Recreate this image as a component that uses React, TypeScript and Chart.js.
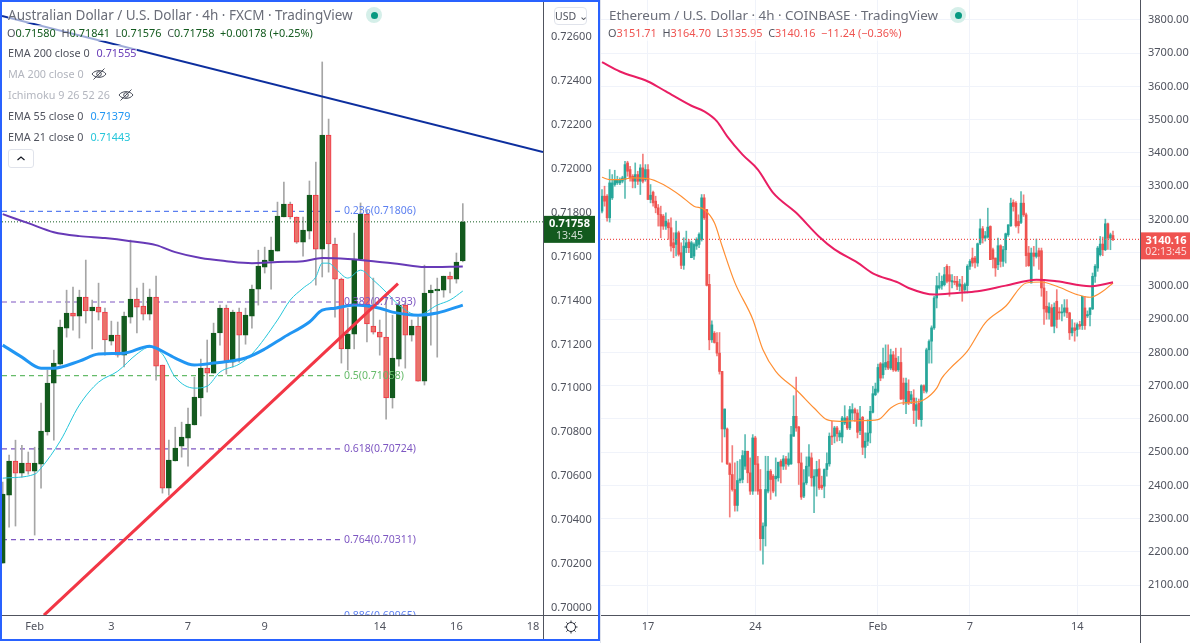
import React, { useEffect, useRef } from "react";
import { Chart, registerables } from "chart.js";

Chart.register(...registerables);

// ---------- AUD/USD ----------
const audOpen = [0.70204,0.70514,0.70669,0.70614,0.70660,0.70623,0.70655,0.70801,0.71024,0.71110,
0.71274,0.71343,0.71329,0.71415,0.71352,0.71370,0.71347,0.71215,0.71242,0.71151,
0.71324,0.71406,0.71374,0.71338,0.71415,0.71106,0.70546,0.70669,0.70737,0.70773,
0.70833,0.70956,0.71092,0.71069,0.71252,0.71365,0.71119,0.71347,0.71242,0.71329,
0.71452,0.71552,0.71579,0.71625,0.71780,0.71839,0.71780,0.71666,0.71716,0.71880,
0.71634,0.72153,0.71657,0.71497,0.71179,0.71247,0.71589,0.71793,0.71283,0.71256,
0.71233,0.70956,0.71133,0.71379,0.71242,0.71283,0.71033,0.71434,0.71443,0.71447,
0.71511,0.71497,0.71580];
const audHigh = [0.70573,0.70696,0.70764,0.70741,0.70710,0.70732,0.70933,0.71083,0.71174,0.71311,
0.71447,0.71461,0.71447,0.71584,0.71402,0.71479,0.71365,0.71306,0.71302,0.71347,
0.71675,0.71456,0.71479,0.71452,0.71511,0.71106,0.70764,0.70823,0.70846,0.70910,
0.71051,0.71133,0.71220,0.71297,0.71379,0.71379,0.71356,0.71365,0.71365,0.71470,
0.71629,0.71643,0.71689,0.71848,0.71939,0.71848,0.71780,0.71780,0.71944,0.72030,
0.72486,0.72226,0.71684,0.71502,0.71365,0.71707,0.71844,0.71810,0.71502,0.71311,
0.71425,0.71333,0.71393,0.71393,0.71311,0.71324,0.71561,0.71470,0.71502,0.71511,
0.71529,0.71616,0.71841];
const audLow = [0.70204,0.70368,0.70373,0.70596,0.70609,0.70332,0.70546,0.70787,0.70764,0.71106,
0.71233,0.71265,0.71229,0.71297,0.71179,0.71311,0.71151,0.71197,0.71142,0.71097,
0.71297,0.71252,0.71311,0.71311,0.71037,0.70523,0.70514,0.70669,0.70687,0.70646,
0.70833,0.70874,0.70983,0.71069,0.71197,0.71065,0.71097,0.71119,0.71201,0.71274,
0.71379,0.71525,0.71452,0.71625,0.71780,0.71771,0.71660,0.71602,0.71680,0.71470,
0.71507,0.71529,0.71324,0.71115,0.71083,0.71179,0.71589,0.71211,0.71247,0.71151,
0.70860,0.70910,0.71101,0.71092,0.71215,0.71033,0.71015,0.71197,0.71142,0.71415,
0.71434,0.71479,0.71576];
const audClose = [0.70518,0.70669,0.70614,0.70660,0.70623,0.70660,0.70805,0.71024,0.71115,0.71279,
0.71343,0.71329,0.71415,0.71352,0.71370,0.71347,0.71220,0.71242,0.71151,0.71329,
0.71406,0.71370,0.71338,0.71415,0.71101,0.70546,0.70673,0.70728,0.70778,0.70837,
0.70960,0.71092,0.71069,0.71252,0.71365,0.71119,0.71347,0.71242,0.71333,0.71452,
0.71557,0.71584,0.71629,0.71784,0.71839,0.71780,0.71666,0.71721,0.71880,0.71634,
0.72153,0.71657,0.71497,0.71179,0.71247,0.71589,0.71793,0.71293,0.71256,0.71233,
0.70956,0.71138,0.71379,0.71242,0.71283,0.71033,0.71434,0.71447,0.71452,0.71511,
0.71497,0.71575,0.71758];

const audEma200Bars = [0,4,8,12,16,20,24,27,31,35,39,43,47,50,54,58,62,66,72];
const audEma200 = [0.71793,0.71752,0.71711,0.71693,0.71684,0.71670,0.71652,0.71620,0.71593,0.71579,0.71570,0.71575,0.71579,0.71593,0.71589,0.71579,0.71566,0.71552,0.71555];
const audEma55Bars = [0,3,6,8,12,15,19,23,24,27,30,33,38,41,44,48,50,52,55,59,61,65,68,72];
const audEma55 = [0.71197,0.71142,0.71092,0.71092,0.71124,0.71156,0.71160,0.71192,0.71183,0.71138,0.71106,0.71115,0.71138,0.71179,0.71233,0.71302,0.71356,0.71365,0.71379,0.71365,0.71347,0.71333,0.71343,0.71379];
const audEma21Bars = [0,5,6,9,12,15,18,21,23,25,27,30,32,34,37,39,43,45,47,49,50,51,52,54,56,58,60,62,65,68,70,72];
const audEma21 = [0.70591,0.70609,0.70637,0.70760,0.70924,0.71028,0.71078,0.71156,0.71188,0.71156,0.71051,0.71001,0.71010,0.71074,0.71110,0.71156,0.71311,0.71402,0.71456,0.71507,0.71570,0.71570,0.71548,0.71502,0.71538,0.71493,0.71438,0.71379,0.71333,0.71379,0.71402,0.71443];

const audBlueLineBars = [-0.11, 84.55];
const audBlueLine = [0.72695, 0.72076];
const audRedLineBars = [6.46, 61.86];
const audRedLine = [0.69967, 0.71477];

const fibLevels = [0.71806, 0.71393, 0.71058, 0.70724, 0.70311, 0.69965];
const fibLabels = ["0.236(0.71806)", "0.382(0.71393)", "0.5(0.71058)", "0.618(0.70724)", "0.764(0.70311)", "0.886(0.69965)"];
const fibColors = ["#5b7ff0", "#7e57c2", "#66bb6a", "#7e57c2", "#7e57c2", "#5b7ff0"];

const audTicks = [0.70000,0.70200,0.70400,0.70600,0.70800,0.71000,0.71200,0.71400,0.71600,0.71800,0.72000,0.72200,0.72400,0.72600];
const audDayBars = [5, 17, 29, 41, 59, 71, 83];
const audDayLabels = ["Feb", "3", "7", "9", "14", "16", "18"];

// ---------- ETH/USD ----------
const ethOpen = [3225,3270,3270,3205,3265,3305,3310,3310,3315,3320,
3370,3350,3330,3315,3335,3315,3355,3320,3350,3260,
3282,3255,3235,3215,3210,3180,3190,3175,3130,3125,
3160,3100,3062,3115,3132,3085,3090,3120,3125,3140,
3265,3230,3005,2838,2858,2830,2798,2743,2570,2570,
2465,2433,2388,2340,2415,2418,2458,2503,2438,2383,
2543,2465,2388,2240,2278,2383,2443,2428,2420,2423,
2473,2458,2480,2463,2465,2548,2608,2576,2468,2368,
2408,2458,2483,2398,2428,2450,2401,2398,2448,2465,
2548,2548,2573,2546,2546,2588,2603,2573,2618,2628,
2618,2565,2605,2515,2533,2558,2620,2673,2683,2766,
2733,2756,2773,2753,2793,2783,2748,2770,2708,2648,
2683,2658,2663,2626,2648,2598,2700,2683,2808,2834,
2874,2964,2994,3000,3004,3059,3034,3012,3014,3014,
2999,3004,2989,3001,3059,3084,3084,3069,3129,3172,
3144,3147,3179,3109,3084,3064,3121,3074,3109,3154,
3181,3251,3249,3194,3191,3249,3214,3099,3009,3099,
3089,3106,3106,2994,2939,2919,2934,2879,2954,2921,
2919,2921,2934,2919,2859,2874,2869,2884,2881,2934,
2910,2914,2931,3029,3054,3094,3126,3109,3187,3144,
3151.71];
const ethHigh = [3290,3300,3275,3350,3335,3348,3330,3325,3330,3375,
3375,3360,3335,3370,3345,3365,3397,3365,3365,3305,
3285,3270,3245,3240,3215,3220,3200,3205,3160,3195,
3165,3130,3145,3165,3140,3135,3130,3145,3160,3275,
3275,3230,3035,2895,2863,2860,2860,2743,2630,2573,
2468,2520,2468,2473,2478,2505,2553,2503,2483,2553,
2548,2488,2448,2288,2488,2488,2448,2433,2483,2470,
2478,2490,2488,2498,2578,2670,2726,2578,2498,2448,
2486,2523,2498,2448,2473,2478,2428,2450,2498,2558,
2593,2578,2578,2565,2608,2640,2608,2638,2646,2633,
2628,2638,2608,2558,2598,2638,2698,2708,2765,2770,
2813,2823,2823,2810,2803,2813,2788,2813,2723,2723,
2718,2683,2688,2663,2660,2703,2703,2813,2838,2880,
2969,3029,3039,3030,3056,3064,3059,3034,3029,3029,
3020,3029,3009,3064,3079,3114,3089,3129,3201,3179,
3164,3234,3181,3114,3084,3144,3124,3119,3159,3184,
3264,3259,3254,3214,3284,3274,3219,3119,3114,3119,
3141,3114,3114,3014,2984,2949,2944,2949,2989,2935,
2944,2959,2959,2921,2899,2889,2889,2894,2969,2969,
2925,2934,3039,3064,3119,3149,3147,3201,3189,3159,
3164.7];
const ethLow = [3220,3240,3195,3192,3260,3300,3305,3305,3310,3263,
3330,3315,3295,3295,3305,3275,3310,3315,3260,3250,
3240,3220,3180,3145,3170,3170,3140,3105,3085,3090,
3090,3052,3050,3100,3100,3085,3080,3110,3115,3135,
3200,3000,2808,2830,2828,2790,2735,2470,2546,2463,
2305,2383,2323,2323,2408,2408,2448,2408,2373,2373,
2383,2373,2205,2163,2218,2378,2358,2378,2368,2413,
2408,2448,2448,2458,2463,2548,2563,2403,2358,2363,
2403,2428,2398,2318,2368,2388,2388,2363,2428,2458,
2523,2528,2533,2535,2528,2583,2568,2568,2598,2593,
2543,2553,2493,2483,2520,2528,2618,2670,2678,2715,
2723,2748,2748,2748,2743,2743,2743,2658,2643,2616,
2643,2646,2586,2578,2598,2578,2678,2678,2768,2768,
2869,2934,2990,2990,3000,3009,2969,2994,3004,2989,
2985,2954,2979,2979,3050,3059,3054,3059,3124,3129,
3135,3144,3079,3054,3029,3049,3057,3059,3069,3149,
3179,3225,3177,3159,3187,3209,3059,3059,3009,3060,
3084,3050,2969,2884,2900,2900,2879,2859,2874,2900,
2895,2909,2905,2839,2850,2834,2849,2870,2869,2869,
2905,2880,2929,3011,3044,3090,3091,3106,3110,3109,
3135.95];
const ethClose = [3270,3255,3205,3310,3310,3320,3320,3320,3325,3365,
3345,3325,3315,3335,3315,3355,3315,3350,3260,3273,
3250,3235,3215,3180,3180,3195,3175,3120,3115,3160,
3095,3062,3120,3130,3115,3130,3125,3140,3155,3265,
3205,3002,2838,2883,2830,2798,2743,2570,2630,2465,
2433,2388,2340,2415,2420,2490,2503,2438,2383,2543,
2463,2383,2240,2278,2388,2443,2418,2383,2428,2470,
2458,2480,2465,2480,2553,2608,2573,2468,2365,2408,
2458,2486,2423,2428,2448,2393,2393,2448,2466,2548,
2546,2573,2556,2558,2603,2603,2573,2628,2628,2618,
2560,2600,2515,2533,2558,2623,2676,2690,2755,2723,
2766,2770,2753,2793,2748,2746,2770,2660,2660,2708,
2648,2673,2626,2643,2600,2700,2686,2808,2833,2874,
2964,3001,3001,3014,3034,3014,3014,3016,3011,2999,
3006,2984,3004,3059,3074,3069,3071,3127,3172,3144,
3151,3177,3079,3081,3054,3121,3074,3109,3157,3184,
3249,3239,3181,3181,3249,3214,3091,3061,3099,3089,
3099,3089,2994,2931,2921,2937,2879,2936,2899,2919,
2921,2934,2919,2859,2874,2866,2884,2879,2969,2881,
2914,2934,3029,3059,3114,3126,3109,3187,3144,3154,
3140.16];

const ethEma200Bars = [0,7,18,25,35,40,45,49,55,61,67,76,85,91,100,106,116,120,130,139,147,158,170,178,191,200];
const ethEma200 = [3673,3645,3615,3585,3542,3525,3495,3450,3395,3350,3280,3220,3148,3110,3070,3038,3010,2994,2974,2979,2984,3001,3019,3014,2999,3011];
const ethEma55Bars = [0,3,7,12,18,24,31,36,40,44,47,52,59,63,68,76,83,88,93,101,108,113,117,122,126,131,133,136,143,150,158,166,172,178,186,191,196,200];
const ethEma55 = [3327,3320,3320,3325,3323,3305,3270,3240,3230,3190,3120,3010,2900,2808,2743,2688,2633,2598,2593,2595,2598,2633,2648,2650,2658,2693,2723,2750,2804,2889,2939,3009,3012,2999,2974,2966,2984,3009];

const ethTicks = [2100,2200,2300,2400,2500,2600,2700,2800,2900,3000,3100,3200,3300,3400,3500,3600,3700,3800];
const ethDayBars = [18, 60, 108, 144, 186];
const ethDayLabels = ["17", "24", "Feb", "7", "14"];

const UI_FONT = '"Noto Sans", sans-serif';
const AXIS_COLOR = "#50535e";

function candleSets(o: number[], h: number[], l: number[], c: number[], st: any) {
  const bars = o.map((_, i) => i);
  const up = (i: number) => c[i] >= o[i];
  return [
    {
      type: "bar", order: 4, grouped: false, barThickness: st.bodyWidth, minBarLength: 1,
      data: bars.map((i) => ({ x: i, y: [o[i], c[i]] })),
      backgroundColor: bars.map((i) => (up(i) ? st.up : st.downFill)),
      borderColor: bars.map((i) => (up(i) ? st.up : st.down)),
      borderWidth: st.border, borderSkipped: false,
    },
    {
      type: "bar", order: 5, grouped: false, barThickness: 1,
      data: bars.map((i) => ({ x: i, y: [l[i], h[i]] })),
      backgroundColor: bars.map((i) => (up(i) ? st.wickUp : st.wickDown)),
      borderWidth: 0,
    },
  ];
}

function lineSet(xs: number[], ys: number[], color: string, width: number, order: number, extra: any = {}) {
  return {
    type: "line", order, data: xs.map((x, i) => ({ x, y: ys[i] })),
    borderColor: color, borderWidth: width, pointRadius: 0, fill: false, ...extra,
  };
}

function axesOptions(cfg: any) {
  return {
    x: {
      type: "linear", min: cfg.xMin, max: cfg.xMax, offset: false,
      afterBuildTicks: (s: any) => { s.ticks = cfg.dayBars.map((v: number) => ({ value: v })); },
      afterFit: (s: any) => { s.height = 23; s.paddingLeft = 0; s.paddingRight = 0; },
      ticks: {
        autoSkip: false, maxRotation: 0, padding: 5, color: AXIS_COLOR,
        font: { family: UI_FONT, size: 11 },
        callback: (v: number) => cfg.dayLabels[cfg.dayBars.indexOf(v)] ?? "",
      },
      grid: { display: cfg.grid, offset: false, color: "#f0f3fa", drawTicks: false },
      border: { color: AXIS_COLOR, width: 1 },
    },
    y: {
      type: "linear", position: "right", min: cfg.yMin, max: cfg.yMax,
      afterBuildTicks: (s: any) => { s.ticks = cfg.yTicks.map((v: number) => ({ value: v })); },
      afterFit: (s: any) => { s.width = cfg.axisWidth; s.paddingTop = 0; s.paddingBottom = 0; },
      ticks: {
        autoSkip: false, padding: 8, color: AXIS_COLOR,
        font: { family: UI_FONT, size: 11 },
        callback: (v: number) => v.toFixed(cfg.decimals),
      },
      grid: { display: cfg.grid, color: "#f0f3fa", drawTicks: false },
      border: { color: AXIS_COLOR, width: 1 },
    },
  };
}

function frameAndTagPlugin(cfg: any) {
  return {
    id: "frameAndTag",
    afterDatasetsDraw(chart: any) {
      if (!cfg.fib) return;
      const { ctx, chartArea, scales } = chart;
      ctx.save();
      ctx.beginPath();
      ctx.rect(chartArea.left, chartArea.top, chartArea.width, chartArea.height);
      ctx.clip();
      ctx.font = `10.5px ${UI_FONT}`;
      ctx.textBaseline = "middle";
      ctx.textAlign = "left";
      fibLevels.forEach((v, i) => {
        ctx.fillStyle = fibColors[i];
        ctx.fillText(fibLabels[i], scales.x.getPixelForValue(cfg.fib), scales.y.getPixelForValue(v));
      });
      ctx.restore();
    },
    afterDraw(chart: any) {
      const { ctx, chartArea, scales, width, height } = chart;
      const r = chartArea.right;
      const b = chartArea.bottom;
      ctx.save();
      ctx.strokeStyle = AXIS_COLOR;
      ctx.lineWidth = 1;
      ctx.beginPath();
      ctx.moveTo(r + 0.5, b);
      ctx.lineTo(r + 0.5, height);
      ctx.moveTo(r, b + 0.5);
      ctx.lineTo(width, b + 0.5);
      ctx.stroke();
      // last-price tag
      const y = scales.y.getPixelForValue(cfg.last);
      ctx.fillStyle = cfg.tagColor;
      ctx.fillRect(r + 1, y + cfg.tagTop, cfg.tagWidth, 27);
      ctx.textAlign = "center";
      ctx.textBaseline = "middle";
      ctx.fillStyle = "#ffffff";
      ctx.font = `bold 11px ${UI_FONT}`;
      ctx.fillText(cfg.last.toFixed(cfg.decimals), r + 1 + cfg.tagWidth / 2, y + cfg.tagTop + 8);
      ctx.font = `10.5px ${UI_FONT}`;
      ctx.fillStyle = "rgba(255,255,255,0.8)";
      ctx.fillText(cfg.countdown, r + 1 + cfg.tagWidth / 2, y + cfg.tagTop + 20);
      // settings gear
      if (cfg.gear) {
        const gx = r + 28;
        const gy = b + 12;
        ctx.strokeStyle = "#2a2e39";
        ctx.lineWidth = 1;
        ctx.beginPath();
        ctx.arc(gx, gy, 4.5, 0, Math.PI * 2);
        for (let k = 0; k < 8; k++) {
          const a = (k * Math.PI) / 4;
          ctx.moveTo(gx + Math.cos(a) * 4.5, gy + Math.sin(a) * 4.5);
          ctx.lineTo(gx + Math.cos(a) * 6.5, gy + Math.sin(a) * 6.5);
        }
        ctx.stroke();
      }
      ctx.restore();
    },
  };
}

function buildAud(canvas: HTMLCanvasElement) {
  const cfg = {
    xMin: -0.11, xMax: 84.55, yMin: 0.69968, yMax: 0.72759, dayBars: audDayBars, dayLabels: audDayLabels,
    yTicks: audTicks, decimals: 5, axisWidth: 54, grid: false, fib: 53.4, last: audClose[audClose.length - 1],
    tagColor: "#135a1e", tagTop: -6, tagWidth: 51, countdown: "13:45", gear: true,
  };
  const fibSets = fibLevels.map((v, i) =>
    lineSet([-0.11, 53.1], [v, v], fibColors[i], 1.2, 6, { borderDash: [5, 4] }));
  return new Chart(canvas, {
    type: "bar",
    data: {
      datasets: [
        lineSet(audRedLineBars, audRedLine, "#f23645", 3, 1),
        lineSet(audBlueLineBars, audBlueLine, "#0d2f9e", 2, 1),
        lineSet(audEma200Bars, audEma200, "#673ab7", 2, 2, { cubicInterpolationMode: "monotone" }),
        lineSet(audEma55Bars, audEma55, "#2196f3", 3, 2, { cubicInterpolationMode: "monotone" }),
        lineSet(audEma21Bars, audEma21, "#26c6da", 1, 2, { cubicInterpolationMode: "monotone" }),
        ...candleSets(audOpen, audHigh, audLow, audClose, {
          bodyWidth: 5, up: "#135a1e", down: "#f23645", downFill: "#e8736a", border: 1, wickUp: "#a6a6a6", wickDown: "#a6a6a6",
        }),
        lineSet([-0.11, 84.55], [cfg.last, cfg.last], "#135a1e", 1, 3, { borderDash: [1, 2] }),
        ...fibSets,
      ] as any,
    },
    options: {
      responsive: false, animation: false,
      layout: { padding: { left: 2, top: 2, right: 3, bottom: 3 } },
      plugins: { legend: { display: false }, tooltip: { enabled: false } },
      scales: axesOptions(cfg) as any,
    },
    plugins: [frameAndTagPlugin(cfg)],
  });
}

function buildEth(canvas: HTMLCanvasElement) {
  const cfg = {
    xMin: -0.39, xMax: 210.57, yMin: 2010.5, yMax: 3860, dayBars: ethDayBars, dayLabels: ethDayLabels,
    yTicks: ethTicks, decimals: 2, axisWidth: 50, grid: true, fib: 0, last: ethClose[ethClose.length - 1],
    tagColor: "#ef5350", tagTop: -7, tagWidth: 50, countdown: "02:13:45", gear: false,
  };
  return new Chart(canvas, {
    type: "bar",
    data: {
      datasets: [
        lineSet(ethEma200Bars, ethEma200, "#e91e63", 2, 1, { cubicInterpolationMode: "monotone" }),
        lineSet(ethEma55Bars, ethEma55, "#ff8f33", 1.2, 2, { cubicInterpolationMode: "monotone" }),
        ...candleSets(ethOpen, ethHigh, ethLow, ethClose, {
          bodyWidth: 2, up: "#26a69a", down: "#ef5350", downFill: "#ef5350", border: 0, wickUp: "rgba(38,166,154,0.75)", wickDown: "rgba(239,83,80,0.75)",
        }),
        lineSet([-0.39, 210.57], [cfg.last, cfg.last], "#ef5350", 1.3, 3, { borderDash: [1, 2] }),
      ] as any,
    },
    options: {
      responsive: false, animation: false,
      layout: { padding: { left: 1, top: 0, right: 0, bottom: 5 } },
      plugins: { legend: { display: false }, tooltip: { enabled: false } },
      scales: axesOptions(cfg) as any,
    },
    plugins: [frameAndTagPlugin(cfg)],
  });
}

const VEIL = "rgba(255,255,255,0.6)";
const abs = (left: number, top: number, extra: any = {}): any => ({
  position: "absolute", left, top, whiteSpace: "nowrap", fontFamily: UI_FONT, lineHeight: "16px", ...extra,
});

function EyeOff({ left, top }: { left: number; top: number }) {
  return (
    <svg style={{ position: "absolute", left, top }} width="16" height="14" viewBox="0 0 16 14" fill="none" stroke="#4a4e5a" strokeWidth="1">
      <path d="M1 7 C4 2.5 12 2.5 15 7 C12 11.5 4 11.5 1 7 Z" />
      <circle cx="8" cy="7" r="2.3" />
      <path d="M2.5 12.5 L13.5 1.5" />
    </svg>
  );
}

function Dot({ left }: { left: number }) {
  return (
    <div style={{ position: "absolute", left, top: 7, width: 16, height: 16, borderRadius: 8, background: "#d5efe9" }}>
      <div style={{ position: "absolute", left: 4.5, top: 4.5, width: 7, height: 7, borderRadius: 4, background: "#089981" }} />
    </div>
  );
}

function Ohlc({ left, items, label, color, size }: any) {
  return (
    <div style={abs(left, 25, { fontSize: size, color, background: VEIL })}>
      {items.map((it: string[], i: number) => (
        <span key={i}>
          <span style={{ color: label }}>{it[0]}</span>
          {it[1]}{i < items.length - 1 ? "\u00a0\u00a0" : ""}
        </span>
      ))}
    </div>
  );
}

export default function App() {
  const left = useRef<HTMLCanvasElement>(null);
  const right = useRef<HTMLCanvasElement>(null);
  useEffect(() => {
    const a = buildAud(left.current as HTMLCanvasElement);
    const b = buildEth(right.current as HTMLCanvasElement);
    return () => { a.destroy(); b.destroy(); };
  }, []);
  const titleColor = "#6a6d78";
  const ind = "#50535e";
  return (
    <div style={{ position: "fixed", left: 0, top: 0, width: 1190, height: 643, background: "#fff", overflow: "hidden" }}>
      <canvas ref={left} width={600} height={641} style={{ position: "absolute", left: 0, top: 0 }} />
      <canvas ref={right} width={590} height={643} style={{ position: "absolute", left: 600, top: 0 }} />
      <div style={{ position: "absolute", left: 0, top: 0, width: 596, height: 637, border: "2px solid #2962ff", pointerEvents: "none" }} />
      <div style={{ position: "absolute", left: 600, top: 0, width: 1, height: 643, background: "#e0e3eb" }} />

      <div style={abs(8, 7, { fontSize: 13.5, color: titleColor, background: VEIL })}>Australian Dollar / U.S. Dollar · 4h · FXCM · TradingView</div>
      <Dot left={366} />
      <Ohlc left={7} size={10.9} color="#135a1e" label={ind} items={[["O", "0.71580"], ["H", "0.71841"], ["L", "0.71576"], ["C", "0.71758"], ["", "+0.00178 (+0.25%)"]]} />
      <div style={abs(8, 45, { fontSize: 10.8, color: ind, background: VEIL })}>EMA 200 close 0<span style={{ color: "#673ab7", marginLeft: 7 }}>0.71555</span></div>
      <div style={abs(8, 66, { fontSize: 10.8, color: "#b2b5be" })}>MA 200 close 0</div>
      <EyeOff left={91} top={67} />
      <div style={abs(8, 87, { fontSize: 10.8, color: "#b2b5be" })}>Ichimoku 9 26 52 26</div>
      <EyeOff left={118} top={88} />
      <div style={abs(8, 108, { fontSize: 10.8, color: ind })}>EMA 55 close 0<span style={{ color: "#2196f3", marginLeft: 7 }}>0.71379</span></div>
      <div style={abs(8, 129, { fontSize: 10.8, color: ind })}>EMA 21 close 0<span style={{ color: "#26c6da", marginLeft: 7 }}>0.71443</span></div>
      <div style={{ position: "absolute", left: 8, top: 149, width: 24, height: 17, border: "1px solid #e0e3eb", borderRadius: 3, background: "#fff" }}>
        <svg width="24" height="17" viewBox="0 0 24 17" fill="none" stroke="#131722" strokeWidth="1.2"><path d="M8.5 10 L12 7 L15.5 10" /></svg>
      </div>
      <div style={{ ...abs(554, 7, { fontSize: 10.5, color: ind, lineHeight: "16px", textAlign: "center" }), width: 31, height: 16, border: "1px solid #e0e3eb", borderRadius: 4, background: "#fff" }}>USD ⌄</div>

      <div style={abs(609, 7, { fontSize: 13.4, color: titleColor })}>Ethereum / U.S. Dollar · 4h · COINBASE · TradingView</div>
      <Dot left={950} />
      <Ohlc left={608} size={10.9} color="#ef5350" label={ind} items={[["O", "3151.71"], ["H", "3164.70"], ["L", "3135.95"], ["C", "3140.16"], ["", "−11.24 (−0.36%)"]]} />
    </div>
  );
}
